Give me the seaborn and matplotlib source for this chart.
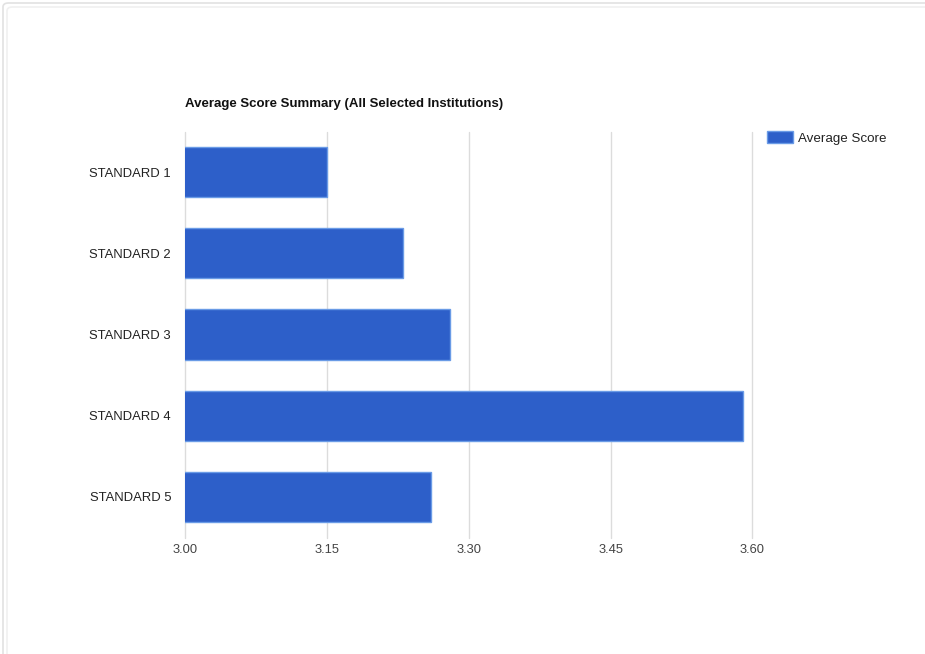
import matplotlib
matplotlib.use("Agg")
import matplotlib.pyplot as plt
from matplotlib.patches import FancyBboxPatch
import pandas as pd
import seaborn as sns

# Average score per standard across all selected institutions
standards = ["STANDARD 1", "STANDARD 2", "STANDARD 3", "STANDARD 4", "STANDARD 5"]
scores = [3.15, 3.23, 3.28, 3.59, 3.26]
series_name = "Average Score"
x_ticks = [3.00, 3.15, 3.30, 3.45, 3.60]
x_tick_labels = ["3.00", "3.15", "3.30", "3.45", "3.60"]
title = "Average Score Summary (All Selected Institutions)"

bar_color = "#2d5fc9"
edge_color = "#6a9be6"

sns.set_theme(style="white")
plt.rcParams["font.family"] = ["Liberation Sans", "DejaVu Sans"]

df = pd.DataFrame({"standard": standards, "score": scores, "series": series_name})

fig = plt.figure(figsize=(9.25, 6.54), dpi=100)
fig.patch.set_facecolor("white")

# card border around the chart
for off, col in ((3, "#e2e2e2"), (7, "#f0f0f0")):
    fig.patches.append(FancyBboxPatch(
        (off / 925, -0.1), 1.2, 1 - off / 654 + 0.1,
        boxstyle="round,pad=0,rounding_size=0.006",
        transform=fig.transFigure, facecolor="none", edgecolor=col, linewidth=1.2))

ax = fig.add_axes([185 / 925, 1 - 537.5 / 654, (752.5 - 185) / 925, (537.5 - 131.5) / 654])
ax.set_facecolor("none")

sns.barplot(data=df, y="standard", x="score", hue="series", orient="h",
            palette={series_name: bar_color}, width=0.62, ax=ax,
            edgecolor=edge_color, linewidth=1.0, saturation=1)

ax.set_xlim(3.0, 3.6)
ax.set_xticks(x_ticks)
ax.set_xticklabels(x_tick_labels)
ax.xaxis.grid(True, color="#dcdcdc", linewidth=1.0)
for gl in ax.get_xgridlines():
    gl.set_clip_on(False)
ax.set_axisbelow(True)
for s in ax.spines.values():
    s.set_visible(False)
ax.set_xlabel("")
ax.set_ylabel("")
ax.tick_params(axis="x", labelsize=9.3, labelcolor="#444444", length=0, pad=5)
ax.tick_params(axis="y", labelsize=9.4, labelcolor="#222222", length=0, pad=10)

fig.text(185 / 925, 1 - 104 / 654, title, fontsize=9.5, fontweight="bold",
         color="#111111", va="center", ha="left")

sns.move_legend(ax, "upper left", bbox_to_anchor=(767 / 925, 1 - 131 / 654),
                bbox_transform=fig.transFigure, frameon=False, title=None,
                fontsize=9.6, handlelength=1.95, handleheight=1.05,
                handletextpad=0.35, borderaxespad=0, borderpad=0)
for t in ax.get_legend().get_texts():
    t.set_color("#222222")

fig.savefig("out.png", dpi=100, facecolor="white")
